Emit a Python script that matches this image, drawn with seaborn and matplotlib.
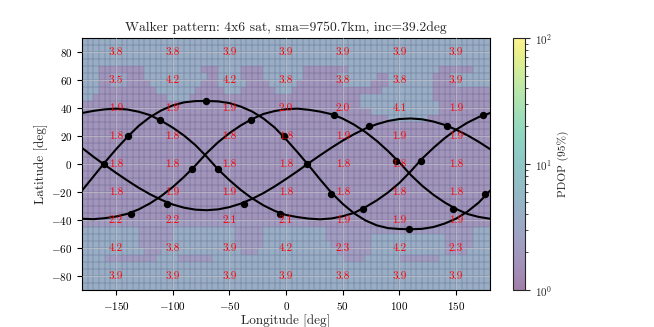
import numpy as np
import matplotlib
matplotlib.use('Agg')
import matplotlib.pyplot as plt
import seaborn as sns
from matplotlib.colors import LogNorm, ListedColormap

# ground tracks of the four planes, every 10 deg
track_lon = [-180, -170, -160, -150, -140, -130, -120, -110, -100, -90, -80, -70, -60,
             -50, -40, -30, -20, -10, 0, 10, 20, 30, 40, 50, 60, 70, 80, 90, 100,
             110, 120, 130, 140, 150, 160, 170, 180]
track_a = [-19, -9, 1, 10.5, 19.3, 27.2, 33.5, 38.3, 41.8, 44, 44.9, 45, 44.7,
           43.5, 41, 37.5, 32.5, 26, 17.6, 8.5, -1, -11, -20.5, -28.5, -35.2, -40.3,
           -43.8, -45.8, -46.4, -46.6, -46.3, -45, -42.5, -39, -34, -27.5, -19]
track_b = [11.5, 5.2, -0.6, -6.3, -11.8, -17, -21.6, -25.6, -28.9, -31.2, -32.6, -33, -32.4,
           -30.8, -28.3, -24.9, -20.8, -16, -10.7, -5.2, 0.6, 6.2, 11.6, 16.7, 21.3, 25.3,
           28.4, 30.7, 32.1, 32.5, 31.9, 30.3, 27.9, 24.5, 20.5, 15.8, 10.6]
track_c = [-39.1, -39.4, -38.7, -37.5, -35.6, -32.4, -28.1, -22.8, -16.5, -9.2, -1.1, 7.8, 15.5,
           22, 27.5, 32.1, 35.7, 37.8, 39.1, 39.5, 38.7, 37.4, 35.6, 32.4, 28.1, 22.8,
           16.5, 9.2, 1.1, -7.8, -15.5, -22, -27.5, -32.1, -35.7, -37.8, -39.1]
track_d = [36.4, 37.9, 39.0, 39.5, 38.9, 37.3, 34.9, 30.8, 26.0, 20.3, 13.5, 5.2, -3.8,
           -11.5, -18.5, -24.5, -29.5, -33.5, -36.4, -37.9, -39.0, -39.5, -38.9, -37.3, -34.9, -30.8,
           -26.0, -20.3, -13.5, -5.2, 3.8, 11.5, 18.5, 24.5, 29.5, 33.5, 36.4]

# satellite positions
sat_lon = [-139, -71, -2, 39.7, 108.3, 175.6,
           -161, -105, -36.8, 18.2, 73.5, 142,
           -136.5, -83, -31, 42, 97, 147,
           -111, -60, -5, 68, 119, 173.6]
sat_lat = [20, 45, 20, -21.7, -46.6, -21.7,
           0, -28.3, -28.3, 0, 26.9, 26.9,
           -35.5, -3.8, 31.2, 34.8, 2, -32.4,
           31.2, -3.8, -35.5, -32.4, 2, 34.8]

# PDOP labels on the coarse grid
label_lon = [-150, -100, -50, 0, 50, 100, 150]
label_lat = [80, 60, 40, 20, 0, -20, -40, -60, -80]
label_pdop = [
    [3.8, 3.8, 3.9, 3.9, 3.9, 3.9, 3.9],
    [3.5, 4.2, 4.2, 3.8, 3.8, 3.8, 3.9],
    [1.9, 1.9, 1.9, 2.0, 2.0, 4.1, 1.9],
    [1.8, 1.8, 1.8, 1.8, 1.9, 1.9, 1.9],
    [1.8, 1.8, 1.8, 1.8, 1.8, 1.8, 1.8],
    [1.8, 1.9, 1.9, 1.8, 1.8, 1.8, 1.8],
    [2.2, 2.2, 2.1, 2.1, 1.9, 1.9, 1.9],
    [4.2, 3.8, 3.9, 4.2, 2.3, 4.2, 2.3],
    [3.9, 3.9, 3.9, 3.9, 3.8, 3.9, 3.9],
]

# background PDOP map: 5 deg cells, rows from +90 down to -90,
# each row written as runs of "level:cells" going east from -180
level_pdop = {'1': 1.8, '2': 2.2, '3': 3.0, '4': 3.9}
pdop_runs = [
    "4:72", "4:72", "4:72", "4:72",
    "4:3 1:8 4:10 1:3 4:4 1:4 4:7 1:8 4:16 1:6 4:3",
    "4:3 1:2 3:3 1:3 4:11 1:2 4:4 1:4 4:7 1:6 4:7 1:2 4:8 1:3 4:7",
    "4:3 1:2 3:3 1:4 4:9 1:3 4:5 1:4 4:5 1:8 4:5 1:3 4:8 1:4 4:6",
    "4:3 1:10 4:7 1:5 4:3 1:6 4:3 1:16 4:9 1:10",
    "4:2 1:13 4:4 1:30 4:13 1:10",
    "1:49 4:14 1:9",
    "1:51 4:12 1:9",
    "1:54 4:7 1:11",
    "1:72", "1:72", "1:72", "1:72", "1:72", "1:72", "1:72",
    "1:72", "1:72", "1:72", "1:72", "1:72", "1:72", "1:72",
    "2:40 1:32",
    "4:10 2:6 4:11 2:5 4:11 2:26 4:3",
    "4:10 2:6 4:11 2:5 4:11 2:8 4:13 2:5 4:3",
    "4:10 2:5 4:12 2:5 4:12 2:7 4:13 2:5 4:3",
    "4:11 2:3 4:14 2:3 4:14 2:6 4:13 2:4 4:4",
    "4:4 2:9 4:4 2:6 4:23 2:4 4:6 2:7 4:9",
    "4:72", "4:72", "4:72", "4:72",
]

pdop = []
for row in pdop_runs:
    vals = []
    for run in row.split():
        ch, n = run.split(':')
        vals += [level_pdop[ch]] * int(n)
    pdop.append(vals)
pdop = np.array(pdop)
cell_lon = np.linspace(-180, 180, pdop.shape[1] + 1)
cell_lat = np.linspace(90, -90, pdop.shape[0] + 1)

sns.set_style('ticks')
plt.rcParams['font.family'] = 'serif'
plt.rcParams['font.serif'] = ['cmr10', 'DejaVu Serif']
plt.rcParams['mathtext.fontset'] = 'cm'
plt.rcParams['axes.formatter.use_mathtext'] = True

# half transparent viridis, so the cell seams can keep their own alpha
vir = plt.get_cmap('viridis')(np.linspace(0, 1, 256))
vir[:, 3] = 0.5
faded = ListedColormap(vir)

fig = plt.figure(figsize=(6.54, 3.27), dpi=100)
ax = fig.add_axes([0.1254, 0.113, 0.624, 0.771])
cax = fig.add_axes([0.784, 0.113, 0.0185, 0.771])

mesh = ax.pcolormesh(cell_lon, cell_lat, pdop, cmap=faded,
                     norm=LogNorm(vmin=1, vmax=100),
                     edgecolors=(0.25, 0.25, 0.4, 0.07), linewidth=0.3)

for tr in [track_a, track_b, track_c, track_d]:
    sns.lineplot(x=track_lon, y=tr, ax=ax, color='black', lw=1.5, sort=False, zorder=3)
sns.scatterplot(x=sat_lon, y=sat_lat, ax=ax, color='black', s=28, edgecolor='black',
                linewidth=0, zorder=5)

for i, la in enumerate(label_lat):
    for j, lo in enumerate(label_lon):
        ax.text(lo, la, f"{label_pdop[i][j]:.1f}", color='red', fontsize=8,
                ha='center', va='center', zorder=6)

ax.set_xlim(-180, 180)
ax.set_ylim(-90, 90)
ax.set_xticks([-150, -100, -50, 0, 50, 100, 150])
ax.set_yticks([-80, -60, -40, -20, 0, 20, 40, 60, 80])
ax.set_axisbelow(False)
ax.grid(True, color='#d0d0d0', lw=0.7, alpha=0.6, zorder=2)
for s in ax.spines.values():
    s.set_color('black')
ax.tick_params(labelsize=8, colors='black')
ax.set_xlabel('Longitude [deg]', fontsize=9.5, labelpad=2)
ax.set_ylabel('Latitude [deg]', fontsize=9.5, labelpad=2)
ax.set_title('Walker pattern: 4x6 sat, sma=9750.7km, inc=39.2deg', fontsize=9.8, pad=5)

cb = fig.colorbar(mesh, cax=cax)
cb.set_label('PDOP (95%)', fontsize=8.2)
cb.ax.tick_params(labelsize=8)

fig.savefig('out.png', dpi=100)
